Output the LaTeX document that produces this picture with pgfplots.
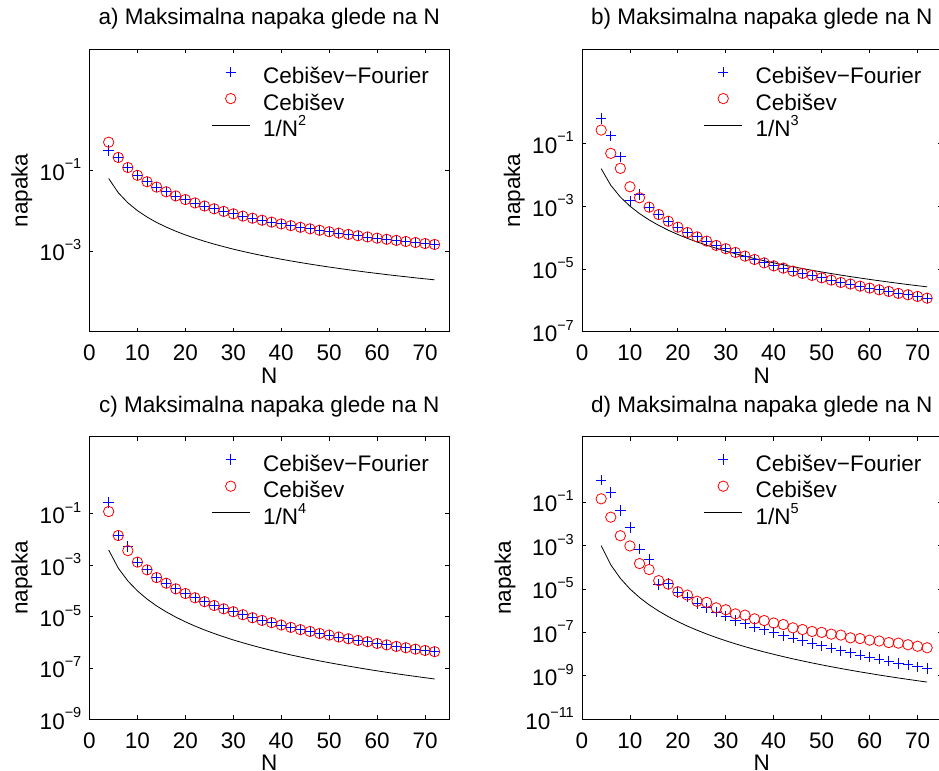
\documentclass[border=0pt]{standalone}
\usepackage{fontspec}
\setmainfont{Liberation Sans}
\usepackage{pgfplots}
\usepackage{pgfplotstable}
\pgfplotsset{compat=1.18}

\newcommand{\ex}[1]{\raisebox{11.4bp}{\fontsize{14.5bp}{14.5bp}\selectfont #1}}

\pgfplotstableread{
N cf ch ref
4 0.307 0.496 6.25e-2
6 0.208 0.208 2.78e-2
8 0.117 0.117 1.5625e-2
10 0.075 0.075 1e-2
12 0.052 0.052 6.94e-3
14 0.0383 0.0383 5.10e-3
16 0.0293 0.0293 3.91e-3
18 0.0231 0.0231 3.09e-3
20 0.0188 0.0188 2.5e-3
22 0.0155 0.0155 2.07e-3
24 0.0130 0.0130 1.74e-3
26 0.0111 0.0111 1.48e-3
28 0.00957 0.00957 1.28e-3
30 0.00833 0.00833 1.11e-3
32 0.00732 0.00732 9.77e-4
34 0.00649 0.00649 8.65e-4
36 0.00579 0.00579 7.72e-4
38 0.00519 0.00519 6.93e-4
40 0.00469 0.00469 6.25e-4
42 0.00425 0.00425 5.67e-4
44 0.00387 0.00387 5.17e-4
46 0.00354 0.00354 4.73e-4
48 0.00326 0.00326 4.34e-4
50 0.00300 0.00300 4.00e-4
52 0.00277 0.00277 3.70e-4
54 0.00257 0.00257 3.43e-4
56 0.00239 0.00239 3.19e-4
58 0.00223 0.00223 2.97e-4
60 0.00208 0.00208 2.78e-4
62 0.00195 0.00195 2.60e-4
64 0.00183 0.00183 2.44e-4
66 0.00172 0.00172 2.30e-4
68 0.00162 0.00162 2.16e-4
70 0.00153 0.00153 2.04e-4
72 0.00145 0.00145 1.93e-4
}\tabA

\pgfplotstableread{
N cf ch ref
4 0.625 0.265 1.5625e-2
6 0.175 0.048 4.63e-3
8 0.0374 0.016 1.95e-3
10 1.49e-3 4.15e-3 1e-3
12 2.38e-3 1.85e-3 5.79e-4
14 9.3e-4 9.3e-4 3.64e-4
16 5.4e-4 5.4e-4 2.44e-4
18 3.3e-4 3.3e-4 1.71e-4
20 2.14e-4 2.14e-4 1.25e-4
22 1.45e-4 1.45e-4 9.39e-5
24 1.05e-4 1.05e-4 7.23e-5
26 7.7e-5 7.7e-5 5.69e-5
28 5.6e-5 5.6e-5 4.56e-5
30 4.4e-5 4.4e-5 3.70e-5
32 3.35e-5 3.35e-5 3.05e-5
34 2.56e-5 2.56e-5 2.54e-5
36 2.0e-5 2.0e-5 2.14e-5
38 1.56e-5 1.56e-5 1.82e-5
40 1.25e-5 1.25e-5 1.5625e-5
42 1.06e-5 1.06e-5 1.35e-5
44 8.5e-6 8.5e-6 1.17e-5
46 7.2e-6 7.2e-6 1.03e-5
48 6.2e-6 6.2e-6 9.04e-6
50 5.2e-6 5.2e-6 8.0e-6
52 4.4e-6 4.4e-6 7.11e-6
54 3.7e-6 3.7e-6 6.35e-6
56 3.3e-6 3.3e-6 5.69e-6
58 2.83e-6 2.83e-6 5.13e-6
60 2.45e-6 2.45e-6 4.63e-6
62 2.16e-6 2.16e-6 4.20e-6
64 1.92e-6 1.92e-6 3.81e-6
66 1.66e-6 1.66e-6 3.48e-6
68 1.5e-6 1.5e-6 3.18e-6
70 1.33e-6 1.33e-6 2.92e-6
72 1.17e-6 1.17e-6 2.68e-6
}\tabB

\pgfplotstableread{
N cf ch ref
4 0.28 0.123 3.91e-3
6 0.0143 0.0143 7.72e-4
8 5.4e-3 3.7e-3 2.44e-4
10 1.32e-3 1.32e-3 1e-4
12 6.6e-4 6.6e-4 4.82e-5
14 3.3e-4 3.3e-4 2.60e-5
16 2.0e-4 2.0e-4 1.53e-5
18 1.2e-4 1.2e-4 9.53e-6
20 7.9e-5 7.9e-5 6.25e-6
22 5.4e-5 5.4e-5 4.27e-6
24 3.8e-5 3.8e-5 3.01e-6
26 2.7e-5 2.7e-5 2.19e-6
28 2.0e-5 2.0e-5 1.63e-6
30 1.54e-5 1.54e-5 1.23e-6
32 1.18e-5 1.18e-5 9.54e-7
34 9.0e-6 9.0e-6 7.48e-7
36 7.1e-6 7.1e-6 5.95e-7
38 5.8e-6 5.8e-6 4.80e-7
40 4.7e-6 4.7e-6 3.91e-7
42 3.8e-6 3.8e-6 3.21e-7
44 3.1e-6 3.1e-6 2.67e-7
46 2.64e-6 2.64e-6 2.23e-7
48 2.2e-6 2.2e-6 1.88e-7
50 1.9e-6 1.9e-6 1.60e-7
52 1.6e-6 1.6e-6 1.37e-7
54 1.37e-6 1.37e-6 1.18e-7
56 1.18e-6 1.18e-6 1.02e-7
58 1.05e-6 1.05e-6 8.84e-8
60 9.0e-7 9.0e-7 7.72e-8
62 7.9e-7 7.9e-7 6.77e-8
64 6.9e-7 6.9e-7 5.96e-8
66 6.1e-7 6.1e-7 5.27e-8
68 5.4e-7 5.4e-7 4.68e-8
70 4.8e-7 4.8e-7 4.16e-8
72 4.3e-7 4.3e-7 3.72e-8
}\tabC

\pgfplotstableread{
N cf ch ref
4 1.0 0.14 9.77e-4
6 0.27 0.02 1.29e-4
8 0.04 2.8e-3 3.05e-5
10 6.6e-3 9.5e-4 1e-5
12 6.7e-4 1.47e-4 4.02e-6
14 2.3e-4 7.8e-5 1.86e-6
16 1.6e-5 2.4e-5 9.54e-7
18 1.8e-5 1.66e-5 5.29e-7
20 6.8e-6 7.4e-6 3.125e-7
22 4.2e-6 5.2e-6 1.94e-7
24 2.1e-6 2.7e-6 1.26e-7
26 1.35e-6 2.4e-6 8.42e-8
28 8.5e-7 1.35e-6 5.81e-8
30 5.6e-7 1.1e-6 4.12e-8
32 3.5e-7 7.1e-7 2.98e-8
34 2.5e-7 6.2e-7 2.20e-8
36 1.75e-7 4.2e-7 1.65e-8
38 1.32e-7 3.5e-7 1.26e-8
40 1.0e-7 2.7e-7 9.77e-9
42 6.9e-8 2.3e-7 7.65e-9
44 5.5e-8 1.62e-7 6.06e-9
46 4.3e-8 1.35e-7 4.86e-9
48 3.1e-8 1.1e-7 3.92e-9
50 2.4e-8 1.0e-7 3.20e-9
52 1.9e-8 8.3e-8 2.63e-9
54 1.42e-8 7.5e-8 2.18e-9
56 1.15e-8 5.6e-8 1.82e-9
58 9.1e-9 5.2e-8 1.52e-9
60 7.3e-9 4.4e-8 1.29e-9
62 5.9e-9 4.0e-8 1.09e-9
64 4.8e-9 3.4e-8 9.31e-10
66 3.7e-9 3.2e-8 7.99e-10
68 3.2e-9 2.7e-8 6.88e-10
70 2.6e-9 2.3e-8 5.95e-10
72 2.2e-9 1.96e-8 5.17e-10
}\tabD

\pgfplotsset{
  legend image code/.code={\draw[mark repeat=2, mark phase=2, #1] plot coordinates {(0bp,5.8bp) (19bp,5.8bp) (38bp,5.8bp)};},
  cfs/.style={only marks, mark=+, mark size=5.2bp, color=blue, draw=blue, mark options={draw=blue, line width=0.8bp}},
  chs/.style={only marks, mark=o, mark size=5.2bp, color=red, draw=red, mark options={draw=red, fill=none, line width=0.8bp}},
  rfs/.style={no marks, black, line width=0.8bp},
  every axis/.append style={
    scale only axis, width=359.5bp, height=282.5bp,
    xmin=0, xmax=75, ymax=1e2,
    xtick={0,10,...,70},
    yminorticks=false,
    tick align=inside, major tick length=4bp,
    axis line style={line width=0.8bp},
    every tick/.style={line width=0.8bp, black},
    font=\fontsize{22.5bp}{27bp}\selectfont,
    xticklabel style={/pgf/number format/assume math mode=true, inner sep=0pt, anchor=north, yshift=-13bp},
    yticklabel style={inner sep=0pt, anchor=base east, xshift=-8bp, yshift=-10bp},
    xlabel={N}, ylabel={napaka},
    xlabel style={at={(axis description cs:0.5,0)}, anchor=north, inner sep=0pt, yshift=-36bp},
    ylabel style={at={(axis description cs:-0.1886,0.5)}, anchor=center, inner sep=0pt},
    title style={at={(axis description cs:0.5,1)}, anchor=base, inner sep=0pt, yshift=18.3bp},
    legend cell align=left,
    legend style={at={(axis description cs:0.330,0.9455)}, anchor=north west, draw=none, fill=none,
      row sep=4.6bp, column sep=13bp, nodes={inner sep=0pt, text height=17bp, text depth=5bp},
      row 3/.style={nodes={text height=18.8bp}}},
  },
}

\begin{document}
\begin{tikzpicture}
\useasboundingbox (0bp,0bp) rectangle (939bp,771bp);

\begin{semilogyaxis}[at={(89.5bp,439.3bp)}, anchor=south west, ymin=1e-5,
  ytick={1e-3,1e-1}, yticklabels={10\ex{−3},10\ex{−1}},
  title={a) Maksimalna napaka glede na N}]
\addplot[cfs] table[x=N,y=cf] {\tabA};
\addplot[chs] table[x=N,y=ch] {\tabA};
\addplot[rfs] table[x=N,y=ref] {\tabA};
\legend{Cebišev−Fourier, Cebišev, 1/N\ex{2}}
\end{semilogyaxis}

\begin{semilogyaxis}[at={(582bp,439.3bp)}, anchor=south west, ymin=1e-7,
  ytick={1e-7,1e-5,1e-3,1e-1}, yticklabels={10\ex{−7},10\ex{−5},10\ex{−3},10\ex{−1}},
  title={b) Maksimalna napaka glede na N}]
\addplot[cfs] table[x=N,y=cf] {\tabB};
\addplot[chs] table[x=N,y=ch] {\tabB};
\addplot[rfs] table[x=N,y=ref] {\tabB};
\legend{Cebišev−Fourier, Cebišev, 1/N\ex{3}}
\end{semilogyaxis}

\begin{semilogyaxis}[at={(89.5bp,51.7bp)}, anchor=south west, ymin=1e-9,
  ytick={1e-9,1e-7,1e-5,1e-3,1e-1}, yticklabels={10\ex{−9},10\ex{−7},10\ex{−5},10\ex{−3},10\ex{−1}},
  title={c) Maksimalna napaka glede na N}]
\addplot[cfs] table[x=N,y=cf] {\tabC};
\addplot[chs] table[x=N,y=ch] {\tabC};
\addplot[rfs] table[x=N,y=ref] {\tabC};
\legend{Cebišev−Fourier, Cebišev, 1/N\ex{4}}
\end{semilogyaxis}

\begin{semilogyaxis}[at={(582bp,51.7bp)}, anchor=south west, ymin=1e-11,
  ytick={1e-11,1e-9,1e-7,1e-5,1e-3,1e-1}, yticklabels={10\ex{−11},10\ex{−9},10\ex{−7},10\ex{−5},10\ex{−3},10\ex{−1}},
  ylabel style={at={(axis description cs:-0.2142,0.5)}},
  title={d) Maksimalna napaka glede na N}]
\addplot[cfs] table[x=N,y=cf] {\tabD};
\addplot[chs] table[x=N,y=ch] {\tabD};
\addplot[rfs] table[x=N,y=ref] {\tabD};
\legend{Cebišev−Fourier, Cebišev, 1/N\ex{5}}
\end{semilogyaxis}
\end{tikzpicture}
\end{document}
